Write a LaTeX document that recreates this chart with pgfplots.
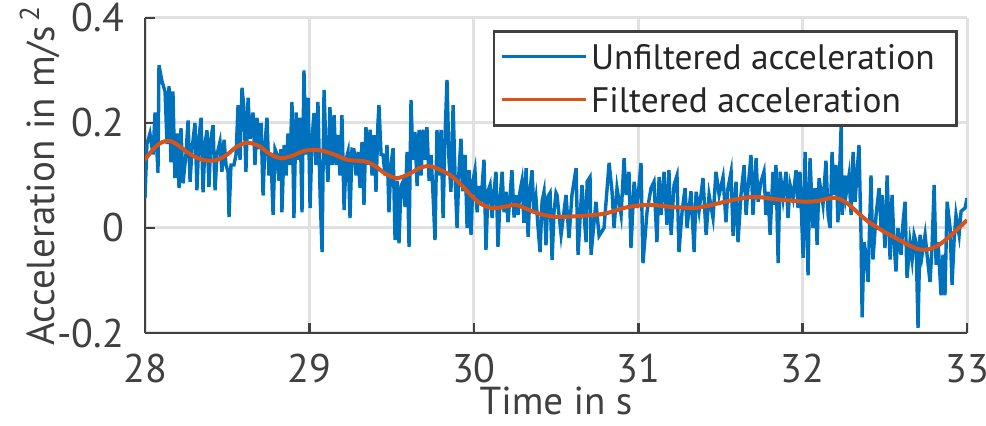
\documentclass[border=0pt]{standalone}
\usepackage{pgfplots}
\pgfplotsset{compat=1.18}
\usepackage{pgfplotstable}
\usepackage{fontspec}
\setmainfont{PT Sans}
\definecolor{mblue}{RGB}{0,114,189}
\definecolor{morange}{RGB}{217,83,25}
\definecolor{axgray}{RGB}{64,64,64}
\definecolor{gridgray}{RGB}{225,225,225}
\definecolor{txtgray}{RGB}{38,38,38}

\pgfplotstableread{
t a
28.000 0.057
28.012 0.160
28.030 0.180
28.049 0.140
28.061 0.220
28.079 0.105
28.085 0.310
28.103 0.280
28.122 0.260
28.134 0.160
28.146 0.270
28.158 0.125
28.170 0.260
28.182 0.095
28.195 0.180
28.207 0.076
28.219 0.190
28.231 0.085
28.249 0.140
28.262 0.205
28.274 0.088
28.286 0.150
28.304 0.200
28.316 0.072
28.328 0.170
28.341 0.210
28.353 0.068
28.365 0.160
28.377 0.186
28.389 0.078
28.401 0.170
28.414 0.196
28.426 0.072
28.438 0.140
28.456 0.164
28.468 0.107
28.481 0.168
28.493 0.120
28.505 0.107
28.511 0.021
28.523 0.120
28.541 0.120
28.554 0.140
28.566 0.234
28.578 0.130
28.590 0.267
28.602 0.228
28.614 0.107
28.627 0.248
28.639 0.170
28.657 0.220
28.669 0.120
28.681 0.210
28.693 0.150
28.706 0.200
28.718 0.062
28.730 0.160
28.742 0.210
28.754 0.100
28.766 0.140
28.779 0.025
28.791 0.150
28.803 0.140
28.815 0.090
28.827 0.150
28.833 0.030
28.846 0.158
28.858 0.100
28.870 0.180
28.882 0.120
28.894 0.240
28.906 0.019
28.919 0.220
28.931 0.130
28.943 0.210
28.955 0.030
28.967 0.300
28.979 0.140
28.992 0.248
29.004 0.038
29.016 0.170
29.028 0.219
29.040 0.120
29.052 0.240
29.065 0.063
29.077 -0.046
29.089 0.263
29.101 0.150
29.113 0.088
29.125 0.230
29.138 0.120
29.150 0.215
29.162 0.120
29.174 0.177
29.186 0.100
29.198 0.215
29.211 0.034
29.223 0.130
29.235 0.145
29.247 0.019
29.259 0.150
29.271 0.149
29.284 0.100
29.296 0.145
29.308 0.076
29.320 0.164
29.332 0.044
29.344 0.192
29.357 0.120
29.369 0.187
29.381 0.100
29.393 0.177
29.405 0.069
29.417 0.200
29.423 0.234
29.436 0.140
29.448 0.139
29.460 0.100
29.472 0.158
29.484 0.030
29.496 0.120
29.509 0.152
29.521 -0.023
29.533 0.090
29.545 -0.029
29.557 0.080
29.569 0.088
29.582 0.040
29.594 0.145
29.606 -0.036
29.618 0.244
29.630 0.130
29.642 0.183
29.655 0.080
29.667 0.187
29.679 0.100
29.691 0.187
29.703 0.130
29.715 0.192
29.728 0.090
29.740 0.139
29.752 0.063
29.764 -0.023
29.776 0.187
29.788 0.100
29.801 0.187
29.813 0.019
29.825 0.177
29.837 0.282
29.849 0.130
29.861 0.069
29.874 0.234
29.886 0.100
29.898 0.000
29.910 0.110
29.922 0.170
29.934 0.070
29.947 0.139
29.959 0.000
29.971 0.110
29.983 -0.013
29.995 0.090
30.007 0.110
30.020 0.030
30.032 0.080
30.044 0.050
30.062 0.130
30.074 -0.042
30.086 0.070
30.099 0.082
30.111 0.019
30.123 0.070
30.135 0.107
30.147 -0.036
30.159 0.050
30.172 0.107
30.184 0.030
30.196 0.069
30.208 0.011
30.220 0.060
30.232 0.110
30.245 0.020
30.257 0.063
30.269 0.025
30.281 0.070
30.293 0.090
30.305 0.010
30.318 0.114
30.330 -0.017
30.342 0.070
30.354 0.110
30.366 0.030
30.378 0.057
30.391 0.000
30.403 -0.046
30.415 0.050
30.427 0.069
30.439 -0.033
30.451 0.060
30.464 0.067
30.476 -0.061
30.488 0.030
30.500 0.067
30.506 0.063
30.531 -0.013
30.561 0.063
30.579 -0.019
30.597 0.063
30.622 0.114
30.634 -0.051
30.658 0.082
30.683 -0.027
30.689 0.088
30.707 0.097
30.713 -0.051
30.743 0.050
30.762 -0.015
30.792 0.000
30.823 0.124
30.841 0.069
30.853 0.000
30.871 0.076
30.896 0.025
30.914 0.133
30.926 0.063
30.944 0.107
30.956 -0.038
30.975 0.088
30.993 0.038
31.017 0.124
31.029 -0.067
31.054 0.032
31.078 0.076
31.096 0.088
31.114 -0.027
31.127 0.097
31.139 0.025
31.157 0.107
31.175 0.006
31.187 0.110
31.200 -0.013
31.218 0.082
31.236 0.100
31.248 -0.046
31.267 0.032
31.285 0.076
31.297 0.000
31.321 0.070
31.340 -0.046
31.352 0.069
31.370 0.032
31.394 0.095
31.413 -0.013
31.431 0.063
31.455 0.019
31.473 0.107
31.492 0.063
31.516 0.097
31.534 0.011
31.546 0.076
31.565 0.107
31.577 -0.015
31.595 0.088
31.607 -0.027
31.625 0.063
31.644 0.120
31.656 0.025
31.668 0.076
31.686 0.139
31.698 0.025
31.717 0.133
31.729 0.050
31.747 0.088
31.765 0.107
31.777 0.025
31.790 0.069
31.802 -0.013
31.820 0.107
31.826 0.044
31.838 0.120
31.851 -0.067
31.863 0.107
31.881 0.057
31.899 0.107
31.911 0.019
31.924 0.082
31.942 0.057
31.960 0.110
31.972 0.038
31.984 0.107
32.003 -0.057
32.015 0.145
32.033 -0.090
32.045 0.133
32.063 0.000
32.076 0.076
32.088 -0.032
32.100 0.095
32.124 0.044
32.142 0.128
32.155 0.025
32.167 0.000
32.179 0.145
32.191 0.063
32.203 0.120
32.215 0.011
32.234 0.192
32.240 0.025
32.258 0.100
32.264 0.063
32.282 0.100
32.295 0.025
32.307 0.145
32.319 0.050
32.343 0.158
32.355 -0.010
32.362 -0.170
32.374 -0.027
32.386 -0.051
32.398 -0.103
32.416 0.100
32.428 -0.060
32.447 0.025
32.465 0.076
32.477 0.000
32.483 0.063
32.501 -0.038
32.514 0.100
32.532 -0.060
32.544 0.063
32.556 -0.027
32.568 -0.083
32.580 0.000
32.599 -0.051
32.611 0.011
32.623 0.050
32.635 -0.095
32.653 -0.027
32.666 -0.060
32.678 -0.013
32.690 -0.027
32.702 -0.190
32.714 -0.013
32.727 -0.051
32.745 -0.013
32.757 -0.051
32.775 -0.103
32.787 -0.038
32.800 0.082
32.812 -0.070
32.824 -0.027
32.842 -0.128
32.854 -0.051
32.866 -0.128
32.879 0.050
32.897 0.000
32.909 -0.108
32.921 -0.027
32.933 0.025
32.952 -0.013
32.964 0.032
32.988 0.038
33.000 0.057
}\rawdata

\pgfplotstableread{
t a
28.00 0.130
28.05 0.150
28.10 0.163
28.15 0.166
28.20 0.158
28.25 0.146
28.30 0.136
28.35 0.130
28.40 0.128
28.45 0.131
28.50 0.140
28.55 0.153
28.60 0.161
28.64 0.162
28.70 0.155
28.75 0.143
28.80 0.135
28.84 0.133
28.90 0.138
28.96 0.146
29.02 0.149
29.08 0.147
29.15 0.140
29.23 0.130
29.30 0.128
29.35 0.126
29.40 0.118
29.46 0.104
29.53 0.095
29.60 0.102
29.67 0.114
29.72 0.118
29.78 0.113
29.86 0.100
29.93 0.080
30.00 0.057
30.05 0.045
30.11 0.038
30.18 0.040
30.25 0.044
30.31 0.038
30.37 0.030
30.44 0.024
30.51 0.021
30.60 0.022
30.70 0.024
30.79 0.027
30.85 0.032
30.91 0.038
30.98 0.042
31.05 0.044
31.12 0.043
31.20 0.040
31.27 0.039
31.34 0.038
31.42 0.042
31.50 0.048
31.60 0.055
31.69 0.059
31.76 0.058
31.83 0.055
31.93 0.052
32.03 0.050
32.10 0.052
32.17 0.057
32.22 0.056
32.28 0.045
32.34 0.028
32.40 0.012
32.45 0.002
32.50 -0.008
32.56 -0.018
32.63 -0.030
32.70 -0.040
32.76 -0.041
32.82 -0.034
32.88 -0.020
32.94 -0.003
33.00 0.015
}\filtdata

\begin{document}
\begin{tikzpicture}
\begin{axis}[
  name=ax,
  scale only axis,
  width=411pt, height=157.5pt,
  xmin=28, xmax=33, ymin=-0.2, ymax=0.4,
  xtick={28,29,30,31,32,33},
  xticklabels={28,29,30,31,32,33},
  ytick={-0.2,0,0.2,0.4},
  yticklabels={-0.2,0,0.2,0.4},
  axis x line*=bottom,
  axis y line*=left,
  axis line style={axgray, line width=1.3pt},
  tick style={axgray, line width=1.3pt},
  tick align=inside,
  major tick length=5pt,
  grid=major,
  major grid style={gridgray, line width=1.5pt},
  ticklabel style={font=\fontsize{20}{24}\selectfont, text=axgray},
  xticklabel style={inner xsep=1pt, yshift=-7pt},
  yticklabel style={xshift=-7pt},
  xlabel={Time in s},
  ylabel={Acceleration in m/s\textsuperscript{\,2}},
  label style={font=\fontsize{19.5}{22}\selectfont, text=axgray},
  xlabel style={inner ysep=1pt, text depth=0pt, yshift=2.5pt},
  ylabel style={yshift=-8pt},
  legend cell align=left,
  legend style={at={(1,1)}, anchor=north east, xshift=-4.5pt, yshift=-6pt,
    draw=axgray, line width=1.3pt, fill=white,
    font=\fontsize{17.7}{20}\selectfont, text=txtgray,
    inner xsep=3pt, inner ysep=2pt,
    nodes={inner sep=2pt, text height=15pt, text depth=2.5pt}},
  legend image code/.code={\draw[#1, line width=1.5pt] (0pt,0pt) -- (42pt,0pt);},
  clip=true,
]
\addplot[mblue, line width=1.7pt] table[x=t, y=a] {\rawdata};
\addlegendentry{Unfiltered acceleration\rule{6pt}{0pt}}
\addplot[morange, line width=2pt, smooth] table[x=t, y=a] {\filtdata};
\addlegendentry{Filtered acceleration}
\end{axis}
\pgfresetboundingbox
\path ([xshift=-72.5pt,yshift=-46.5pt]ax.south west) rectangle ([xshift=9.5pt,yshift=9pt]ax.north east);
\end{tikzpicture}
\end{document}
